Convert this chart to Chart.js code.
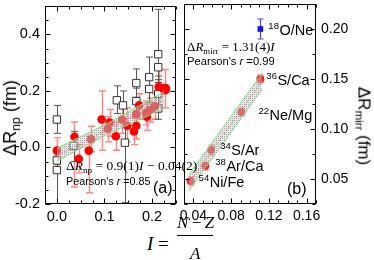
<!DOCTYPE html>
<html><head><meta charset="utf-8">
<script src="https://cdn.jsdelivr.net/npm/chart.js@4.4.1/dist/chart.umd.min.js"></script>
<style>
html,body{margin:0;padding:0;background:#fff;}
#wrap{position:relative;width:374px;height:260px;overflow:hidden;background:#fff;}
canvas{position:absolute;top:0;}
.t{position:absolute;white-space:nowrap;color:#000;line-height:1;}
.serif{font-family:"Liberation Serif","Times New Roman",serif;}
.sans{font-family:"Liberation Sans",Arial,sans-serif;}
.sub{font-size:0.68em;position:relative;top:0.3em;}
.rot{position:absolute;white-space:nowrap;line-height:1;font-family:"Liberation Sans",Arial,sans-serif;color:#000;}
</style></head><body>
<div id="wrap">
<canvas id="ca" width="182" height="226" style="left:0px"></canvas>
<canvas id="cb" width="194" height="226" style="left:180px"></canvas>

<div class="rot" style="left:10px;top:118px;font-size:18px;transform:translate(-50%,-50%) rotate(-90deg);">ΔR<span class="sub">np</span> (fm)</div>
<div class="rot" style="left:364px;top:126px;font-size:17px;transform:translate(-50%,-50%) rotate(90deg);">ΔR<span class="sub">mirr</span> (fm)</div>

<div class="t serif" style="left:66px;top:159px;font-size:13.5px;">Δ<i>R</i><span class="sub">np</span> = 0.9(1)<i>I</i> − 0.04(2)</div>
<div class="t sans" style="left:66px;top:176px;font-size:10.8px;">Pearson's <i>r</i> =0.85</div>
<div class="t sans" style="left:153px;top:180px;font-size:16px;">(a)</div>

<div class="t serif" style="left:187px;top:40px;font-size:13px;">Δ<i>R</i><span class="sub">mirr</span> = 1.31(4)<i>I</i></div>
<div class="t sans" style="left:187px;top:56px;font-size:11.2px;">Pearson's <i>r</i> =0.99</div>
<div class="t sans" style="left:287px;top:181px;font-size:16px;">(b)</div>

<div class="t serif" style="left:147px;top:234px;font-size:19px;"><i>I</i> =</div>
<div class="t serif" style="left:177px;top:214px;font-size:17px;"><i>N</i>&#8201;−&#8201;<i>Z</i></div>
<div style="position:absolute;left:177px;top:235px;width:36px;height:1px;background:#000;"></div>
<div class="t serif" style="left:190px;top:245px;font-size:17px;"><i>A</i></div>
</div>

<script>
// ---------------- DATA ----------------
// Panel (a): ΔR_np vs I
const redI  = [0.000, 0.037, 0.046, 0.067, 0.072, 0.094, 0.107, 0.111, 0.124, 0.137, 0.148, 0.162, 0.167, 0.167, 0.173, 0.187, 0.189, 0.195, 0.206, 0.214, 0.227];
const redV  = [-0.011, 0.038, -0.040, -0.011, 0.029, 0.099, 0.066, 0.088, 0.040, 0.099, 0.077, 0.057, 0.077, 0.118, 0.149, 0.123, 0.109, 0.132, 0.146, 0.215, 0.207];
const redLo = [-0.060, -0.140, -0.090, -0.160, -0.015, -0.010, 0.020, 0.040, -0.010, 0.050, 0.020, 0.010, 0.030, 0.070, 0.100, 0.080, 0.060, 0.090, 0.100, 0.150, 0.140];
const redHi = [0.035, 0.090, 0.010, 0.040, 0.075, 0.200, 0.110, 0.135, 0.090, 0.145, 0.140, 0.105, 0.125, 0.165, 0.190, 0.165, 0.155, 0.175, 0.190, 0.276, 0.276];

const sqI  = [0.000, 0.000, 0.000, 0.035, 0.126, 0.139, 0.143, 0.167, 0.167, 0.194, 0.194, 0.213, 0.213, 0.213, 0.213];
const sqV  = [0.099, -0.046, -0.080, 0.006, 0.167, 0.149, 0.017, 0.228, 0.164, 0.249, 0.207, 0.330, 0.284, 0.190, 0.138];
const sqLo = [0.050, -0.200, -0.200, -0.050, 0.120, 0.100, -0.195, 0.178, 0.115, 0.196, 0.160, 0.253, 0.230, 0.140, 0.100];
const sqHi = [0.149, 0.000, -0.030, 0.057, 0.218, 0.200, 0.070, 0.278, 0.210, 0.320, 0.255, 0.489, 0.340, 0.240, 0.180];

const bandAI  = [0.000, 0.110, 0.225];
const bandAUp = [-0.003, 0.088, 0.197];
const bandALo = [-0.048, 0.050, 0.138];
const fitAI = [0.000, 0.225];
const fitAV = [-0.030, 0.168];

// Panel (b): ΔR_mirr vs I
const mirrI   = [0.037, 0.0526, 0.0588, 0.0909, 0.111];
const mirrV   = [0.048, 0.063, 0.079, 0.117, 0.150];
const mirrErr = [0.004, 0.004, 0.005, 0.004, 0.004];
const oneI   = [0.111];
const oneV   = [0.200];
const oneErr = [0.010];
const isoMass = ['54', '38', '34', '22', '36', '18'];
const isoName = ['Ni/Fe', 'Ar/Ca', 'S/Ar', 'Ne/Mg', 'S/Ca', 'O/Ne'];

const bandBI  = [0.035, 0.113];
const bandBUp = [0.054, 0.156];
const bandBLo = [0.038, 0.140];
const fitBI = [0.035, 0.113];
const fitBV = [0.0459, 0.148];

// axis tick settings
const aX = {min: -0.025, max: 0.25, step: 0.025, labelEvery: 0.1, dec: 1};
const aY = {min: -0.2, max: 0.5, step: 0.05, labelEvery: 0.2, dec: 1};
const bX = {min: 0.03, max: 0.17, step: 0.01, labelEvery: 0.04, dec: 2};
const bY = {min: 0.025, max: 0.225, step: 0.025, labelEvery: 0.05, dec: 2};

// ---------------- HELPERS ----------------
const pts = (xs, ys) => xs.map((x, i) => ({x: x, y: ys[i]}));
const FONT = '"Liberation Sans", Arial, sans-serif';
Chart.defaults.font.family = FONT;
Chart.defaults.color = '#000';

function hatch() {
  const c = document.createElement('canvas');
  c.width = 2; c.height = 2;
  const g = c.getContext('2d');
  g.fillStyle = 'rgba(205,205,205,0.45)';
  g.fillRect(0, 0, 2, 2);
  g.fillStyle = 'rgba(130,130,130,0.6)';
  g.fillRect(0, 0, 1, 1);
  return g.createPattern(c, 'repeat');
}
const pattern = hatch();
const GREEN = 'rgb(120,230,120)';

function labelCb(ax) {
  return function (v) {
    const r = v / ax.labelEvery;
    return Math.abs(r - Math.round(r)) < 1e-6 ? Number(v).toFixed(ax.dec) : '';
  };
}
function zeroPad(s) { s.paddingTop = 0; s.paddingBottom = 0; s.paddingLeft = 0; s.paddingRight = 0; }

function scales(ax, ay, yPos, yWidth, fs) {
  return {
    x: {
      type: 'linear', min: ax.min, max: ax.max,
      grid: {display: false, drawTicks: false}, border: {display: false},
      ticks: {stepSize: ax.step, autoSkip: false, maxRotation: 0, padding: 4, color: '#000',
        font: {size: fs}, callback: labelCb(ax)},
      afterFit(s) { s.height = 22; zeroPad(s); }
    },
    y: {
      type: 'linear', min: ay.min, max: ay.max, position: yPos,
      grid: {display: false, drawTicks: false}, border: {display: false},
      ticks: {stepSize: ay.step, autoSkip: false, padding: 5, color: '#000',
        font: {size: fs}, callback: labelCb(ay)},
      afterFit(s) { s.width = yWidth; zeroPad(s); }
    }
  };
}

const frame = {
  id: 'frame',
  afterDraw(chart) {
    const ctx = chart.ctx;
    const {left, right, top, bottom} = chart.chartArea;
    const L = Math.round(left) + 0.5, R = Math.round(right) - 0.5;
    const T = Math.round(top) + 0.5, B = Math.round(bottom) - 0.5;
    ctx.save();
    ctx.strokeStyle = '#000'; ctx.lineWidth = 1;
    ctx.strokeRect(L, T, R - L, B - T);
    ctx.beginPath();
    const xs = chart.scales.x, ys = chart.scales.y;
    xs.ticks.forEach(t => {
      const p = Math.round(xs.getPixelForValue(t.value)) + 0.5;
      const len = t.label ? 5 : 3;
      ctx.moveTo(p, B); ctx.lineTo(p, B - len);
      ctx.moveTo(p, T); ctx.lineTo(p, T + len);
    });
    ys.ticks.forEach(t => {
      const p = Math.round(ys.getPixelForValue(t.value)) + 0.5;
      const len = t.label ? 5 : 3;
      ctx.moveTo(L, p); ctx.lineTo(L + len, p);
      ctx.moveTo(R, p); ctx.lineTo(R - len, p);
    });
    ctx.stroke();
    ctx.restore();
  }
};

const errbars = {
  id: 'errbars',
  beforeDatasetsDraw(chart) {
    const ctx = chart.ctx, xs = chart.scales.x, ys = chart.scales.y;
    const a = chart.chartArea;
    ctx.save();
    ctx.beginPath(); ctx.rect(a.left, a.top, a.right - a.left, a.bottom - a.top); ctx.clip();
    chart.data.datasets.forEach(ds => {
      if (!ds.errLo) return;
      ctx.strokeStyle = ds.errColor; ctx.lineWidth = ds.errWidth || 1;
      const cw = ds.capW || 3;
      ctx.beginPath();
      ds.data.forEach((p, i) => {
        const x = Math.round(xs.getPixelForValue(p.x)) + 0.5;
        const y1 = ys.getPixelForValue(ds.errLo[i]);
        const y2 = ys.getPixelForValue(ds.errHi[i]);
        ctx.moveTo(x, y1); ctx.lineTo(x, y2);
        ctx.moveTo(x - cw, y1); ctx.lineTo(x + cw, y1);
        ctx.moveTo(x - cw, y2); ctx.lineTo(x + cw, y2);
      });
      ctx.stroke();
    });
    ctx.restore();
  }
};

const isoLabels = {
  id: 'isoLabels',
  afterDatasetsDraw(chart) {
    const ctx = chart.ctx, xs = chart.scales.x, ys = chart.scales.y;
    const li = mirrI.concat(oneI), lv = mirrV.concat(oneV);
    const offs = [[8, 6], [10, 5], [9, 5], [17, 8], [6, 6], [8, 6]];
    ctx.save();
    ctx.fillStyle = '#000';
    ctx.textBaseline = 'alphabetic';
    li.forEach((I, i) => {
      const x = xs.getPixelForValue(I) + offs[i][0];
      const y = ys.getPixelForValue(lv[i]) + offs[i][1];
      ctx.font = '9.5px ' + FONT;
      ctx.fillText(isoMass[i], x, y - 6);
      const w = ctx.measureText(isoMass[i]).width;
      ctx.font = '14.5px ' + FONT;
      ctx.fillText(isoName[i], x + w + 0.5, y);
    });
    ctx.restore();
  }
};

const common = {
  responsive: false, animation: false, devicePixelRatio: 1,
  events: [],
  plugins: {legend: {display: false}, tooltip: {enabled: false}}
};

// ---------------- CHART (a) ----------------
new Chart(document.getElementById('ca'), {
  type: 'scatter',
  data: {datasets: [
    {type: 'line', data: pts(bandAI, bandAUp), borderColor: GREEN, borderWidth: 1, pointRadius: 0,
      fill: '+1', backgroundColor: pattern, showLine: true, tension: 0, order: 0},
    {type: 'line', data: pts(bandAI, bandALo), borderColor: GREEN, borderWidth: 1, pointRadius: 0,
      fill: false, showLine: true, tension: 0, order: 1},
    {type: 'line', data: pts(fitAI, fitAV), borderColor: 'rgba(235,40,40,0.8)', borderDash: [2, 2],
      borderWidth: 1, pointRadius: 0, fill: false, showLine: true, order: 2},
    {data: pts(redI, redV), pointStyle: 'circle',
      pointRadius: c => (c.dataIndex === redI.length - 1 ? 5.5 : 4.3),
      backgroundColor: '#ff0000', borderColor: '#ff0000', borderWidth: 0,
      errLo: redLo, errHi: redHi, errColor: 'rgba(255,110,110,0.85)', errWidth: 1.4, capW: 3.5, order: 3},
    {data: pts(sqI, sqV), pointStyle: 'rect', pointRadius: 5.2,
      backgroundColor: '#fff', borderColor: '#333', borderWidth: 1,
      errLo: sqLo, errHi: sqHi, errColor: '#555', errWidth: 1, capW: 3.5, order: 4}
  ]},
  options: Object.assign({}, common, {
    layout: {padding: {left: 0, right: 1, top: 0, bottom: 0}},
    scales: scales(aX, aY, 'left', 45, 14.5)
  }),
  plugins: [errbars, frame]
});

// ---------------- CHART (b) ----------------
new Chart(document.getElementById('cb'), {
  type: 'scatter',
  data: {datasets: [
    {type: 'line', data: pts(bandBI, bandBUp), borderColor: GREEN, borderWidth: 1, pointRadius: 0,
      fill: '+1', backgroundColor: pattern, showLine: true, tension: 0, order: 0},
    {type: 'line', data: pts(bandBI, bandBLo), borderColor: GREEN, borderWidth: 1, pointRadius: 0,
      fill: false, showLine: true, tension: 0, order: 1},
    {type: 'line', data: pts(fitBI, fitBV), borderColor: 'rgba(235,40,40,0.8)', borderDash: [2, 2],
      borderWidth: 1, pointRadius: 0, fill: false, showLine: true, order: 2},
    {data: pts(mirrI, mirrV), pointStyle: 'circle', pointRadius: 4,
      backgroundColor: '#ff1a1a', borderColor: '#ff1a1a', borderWidth: 0,
      errLo: mirrV.map((v, i) => v - mirrErr[i]), errHi: mirrV.map((v, i) => v + mirrErr[i]),
      errColor: 'rgba(255,90,90,0.9)', errWidth: 1.2, capW: 3, order: 3},
    {data: pts(oneI, oneV), pointStyle: 'rect', pointRadius: 4,
      backgroundColor: '#1414d8', borderColor: '#1414d8', borderWidth: 0,
      errLo: oneV.map((v, i) => v - oneErr[i]), errHi: oneV.map((v, i) => v + oneErr[i]),
      errColor: 'rgb(70,70,235)', errWidth: 1.2, capW: 3, order: 3}
  ]},
  options: Object.assign({}, common, {
    layout: {padding: {left: 0, right: 0, top: 0, bottom: 0}},
    scales: scales(bX, bY, 'right', 58, 14)
  }),
  plugins: [errbars, frame, isoLabels]
});
</script>
</body></html>
